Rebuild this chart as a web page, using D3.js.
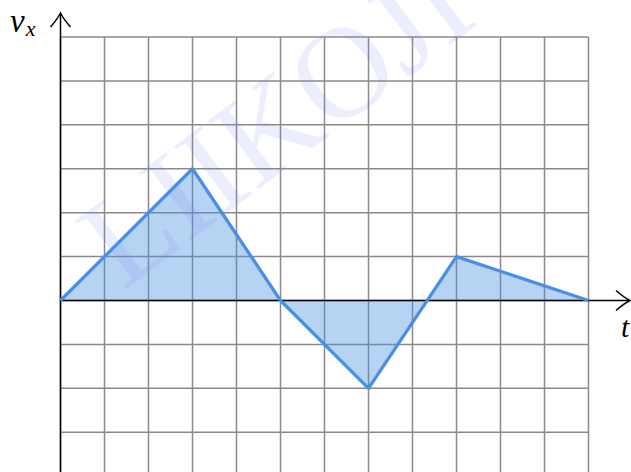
<!DOCTYPE html>
<html><head><meta charset="utf-8">
<script src="https://cdn.jsdelivr.net/npm/d3@7"></script>
<style>html,body{margin:0;padding:0;background:#fff;overflow:hidden}</style>
</head><body>
<svg id="c" width="631" height="472"></svg>
<script>
const tVals = [0, 3, 5, 7, 9, 12];
const vVals = [0, 3, 0, -2, 1, 0];
const xGrid = d3.range(0, 13);
const yGrid = [6, 5, 4, 3, 2, 1, 0, -1, -2, -3];
const watermark = "LIIKOJI";

const svg = d3.select("#c");
const x = d3.scaleLinear().domain([0, 12]).range([60.5, 588.5]);
const y = d3.scaleLinear().domain([0, 6]).range([300.5, 37]);
const bottom = 472;

// grid
svg.append("g").selectAll("line").data(xGrid).join("line")
  .attr("x1", d => x(d)).attr("x2", d => x(d))
  .attr("y1", y(6)).attr("y2", bottom)
  .attr("stroke", "#8a8a8a").attr("stroke-width", 1.5);
svg.append("g").selectAll("line").data(yGrid).join("line")
  .attr("x1", x(0)).attr("x2", x(12))
  .attr("y1", d => y(d)).attr("y2", d => y(d))
  .attr("stroke", "#8a8a8a").attr("stroke-width", 1.5);

const pts = tVals.map((t, i) => [t, vVals[i]]);
// area
svg.append("path").datum(pts)
  .attr("d", d3.area().x(d => x(d[0])).y0(y(0)).y1(d => y(d[1])))
  .attr("fill", "#4a90e2").attr("fill-opacity", 0.4);

// axes
svg.append("line").attr("x1", x(0)).attr("x2", 629).attr("y1", y(0)).attr("y2", y(0))
  .attr("stroke", "#000").attr("stroke-width", 1.5);
svg.append("line").attr("x1", x(0)).attr("x2", x(0)).attr("y1", bottom).attr("y2", 13)
  .attr("stroke", "#000").attr("stroke-width", 1.5);
// arrowheads
svg.append("path").attr("d", `M${x(0)-10},${27} Q${x(0)-3},${19} ${x(0)},${13} Q${x(0)+3},${19} ${x(0)+10},${27}`)
  .attr("fill", "none").attr("stroke", "#000").attr("stroke-width", 1.5);
svg.append("path").attr("d", `M${616},${y(0)-10} Q${624},${y(0)-3} ${630},${y(0)} Q${624},${y(0)+3} ${616},${y(0)+10}`)
  .attr("fill", "none").attr("stroke", "#000").attr("stroke-width", 1.5);

// line
svg.append("path").datum(pts)
  .attr("d", d3.line().x(d => x(d[0])).y(d => y(d[1])))
  .attr("fill", "none").attr("stroke", "#4a90e2").attr("stroke-width", 3.3)
  .attr("stroke-linejoin", "round");

// labels
const serif = "'Liberation Serif', 'DejaVu Serif', serif";
const lab = svg.append("text").attr("x", 10).attr("y", 32)
  .attr("font-family", serif).attr("font-style", "italic")
  .attr("font-size", 33);
lab.append("tspan").text("v");
lab.append("tspan").attr("font-size", 22).attr("dy", 4).attr("dx", 1).text("x");
svg.append("text").attr("x", 621).attr("y", 337)
  .attr("font-family", serif).attr("font-style", "italic")
  .attr("font-size", 30).text("t");

// watermark
svg.append("text").attr("transform", "translate(276,122) rotate(-37)")
  .attr("y", 43)
  .attr("text-anchor", "middle")
  .attr("font-family", serif).attr("font-size", 130)
  .attr("fill", "#6a78f0").attr("fill-opacity", 0.13).text(watermark);
</script>
</body></html>
